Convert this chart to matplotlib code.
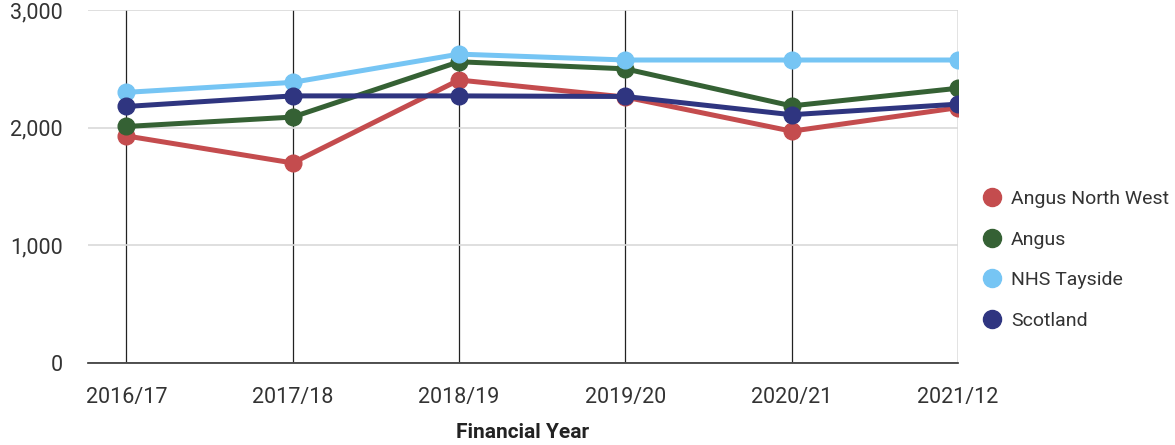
import matplotlib
matplotlib.use("Agg")
import matplotlib.pyplot as plt

years = ["2016/17", "2017/18", "2018/19", "2019/20", "2020/21", "2021/12"]
angus_nw = [1930, 1700, 2405, 2260, 1970, 2170]
angus = [2010, 2090, 2560, 2500, 2185, 2335]
nhs_tayside = [2300, 2385, 2625, 2575, 2575, 2575]
scotland = [2180, 2270, 2270, 2265, 2110, 2200]

series = [
    ("Angus North West", angus_nw, "#C44C4E"),
    ("Angus", angus, "#356134"),
    ("NHS Tayside", nhs_tayside, "#76C5F4"),
    ("Scotland", scotland, "#2F3580"),
]

plt.rcParams["font.family"] = ["Roboto", "DejaVu Sans"]

fig = plt.figure(figsize=(11.75, 4.45), dpi=100)
ax = fig.add_axes([88 / 1175, 1 - 363 / 445, (958 - 88) / 1175, (363 - 10) / 445])

x = list(range(len(years)))
for name, vals, col in series:
    ax.plot(x, vals, color=col, lw=3.6, marker="o", ms=12, label=name,
            solid_capstyle="round", zorder=3)

ax.set_xlim(-0.23, 5.0)
ax.set_ylim(0, 3000)
ax.set_yticks([0, 1000, 2000, 3000])
ax.set_yticklabels(["0", "1,000", "2,000", "3,000"])
ax.set_xticks(x)
ax.set_xticklabels(years)

ax.yaxis.grid(True, color="#d9d9d9", lw=1.2)
ax.xaxis.grid(True, color="#222222", lw=0.9)
ax.set_axisbelow(True)
for s in ["top", "right", "left"]:
    ax.spines[s].set_visible(False)
ax.spines["bottom"].set_color("#333333")
ax.spines["bottom"].set_linewidth(1.2)
ax.tick_params(axis="both", length=0, labelsize=15.5, colors="#333333")
ax.tick_params(axis="y", pad=18)
ax.tick_params(axis="x", pad=17)

ax.set_xlabel("Financial Year", fontsize=15, fontweight="bold", color="#222222", labelpad=11)

leg = fig.legend(loc="upper left", bbox_to_anchor=(974 / 1175, 1 - 182 / 445),
                 frameon=False, fontsize=14, handlelength=1.0, handletextpad=0.5,
                 labelspacing=1.17, borderaxespad=0)
for h in leg.legend_handles:
    h.set_linestyle("none")
    h.set_markersize(13)
for t in leg.get_texts():
    t.set_color("#333333")

fig.savefig("out.png", dpi=100)
